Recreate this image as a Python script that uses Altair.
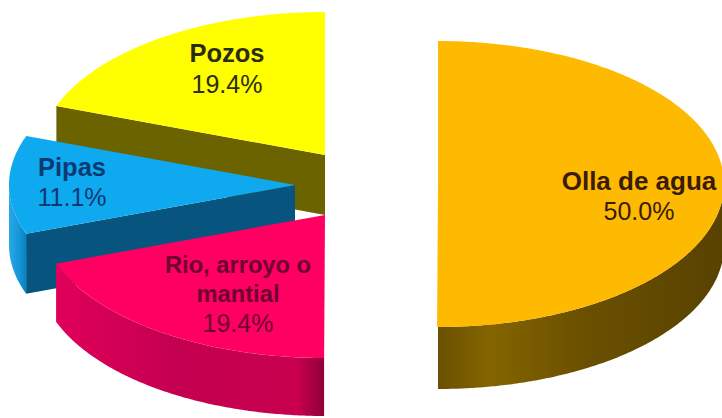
import math
import altair as alt
import pandas as pd

# Water sources and their shares, clockwise from twelve o'clock
categories = ["Olla de agua", "Rio, arroyo o mantial", "Pipas", "Pozos"]
shares = [50.0, 19.4, 11.1, 19.4]

# Layout of the exploded slices: apex of each wedge, ellipse radii, extrusion depth
apex = {"Olla de agua": (438, 184), "Rio, arroyo o mantial": (325, 215),
        "Pipas": (295, 185), "Pozos": (325, 155)}
depth = {"Olla de agua": 62, "Rio, arroyo o mantial": 58, "Pipas": 60, "Pozos": 60}
RX, RY = 286, 143

W, H = 722, 418
x_scale = alt.Scale(domain=[0, W], range=[0, W], nice=False, zero=False)
y_scale = alt.Scale(domain=[0, H], range=[0, H], nice=False, zero=False)


def hgrad(*stops):
    return alt.Gradient(
        gradient="linear", x1=0, x2=1, y1=0, y2=0,
        stops=[alt.GradientStop(offset=o, color=c) for o, c in stops],
    )


# Start and end angle of each slice, in degrees clockwise from the top
total = sum(shares)
angles, running = {}, 0.0
for name, value in zip(categories, shares):
    angles[name] = (running, running + value / total * 360)
    running += value / total * 360


def rim(name, a0, a1, dy=0):
    cx, cy = apex[name]
    steps = max(int(abs(a1 - a0)), 1) * 2
    out = []
    for k in range(steps + 1):
        t = math.radians(a0 + (a1 - a0) * k / steps)
        out.append((cx + RX * math.sin(t), cy - RY * math.cos(t) + dy))
    return out


def top(name):
    a0, a1 = angles[name]
    return [apex[name]] + rim(name, a0, a1) + [apex[name]]


def outer_wall(name, a0, a1):
    return rim(name, a0, a1) + rim(name, a1, a0, depth[name])


def cut_face(name, a):
    cx, cy = apex[name]
    edge = rim(name, a, a)[0]
    d = depth[name]
    return [edge, (cx, cy), (cx, cy + d), (edge[0], edge[1] + d)]


def shape(points, fill):
    frame = pd.DataFrame(points, columns=["x", "y"]).assign(i=range(len(points)))
    return alt.Chart(frame).mark_line(
        fill=fill, stroke="transparent", strokeWidth=0, interpolate="linear-closed"
    ).encode(
        x=alt.X("x:Q", scale=x_scale, axis=None),
        y=alt.Y("y:Q", scale=y_scale, axis=None),
        order="i:Q",
    )


olla, rio, pipas, pozos = categories
layers = [
    # Pozos sits at the back, then Pipas, then Rio in front
    shape(cut_face(pozos, angles[pozos][0]), "#6B6300"),
    shape(top(pozos), "#FFFF00"),
    shape(outer_wall(pipas, angles[pipas][0], 270),
          hgrad((0, "#2AA8E8"), (0.6, "#1496D8"), (1, "#0A80C0"))),
    shape(cut_face(pipas, angles[pipas][0]), "#07557F"),
    shape(top(pipas), "#0FA9F0"),
    shape(outer_wall(rio, angles[rio][0], angles[rio][1]),
          hgrad((0, "#E0005A"), (0.45, "#C40050"), (0.9, "#C8004E"), (1, "#8F0038"))),
    shape(top(rio), "#FF0062"),
    shape(outer_wall(olla, 90, 180),
          hgrad((0, "#6A5000"), (0.18, "#846500"), (0.5, "#6B5000"), (1, "#584200"))),
    shape(top(olla), "#FDBA00"),
]

# Slice captions: name lines in bold, the share on the last line
captions = {
    pozos: {"lines": ["Pozos"], "x": 227, "y": [54, 85], "size": 25.5, "color": "#2C2C10"},
    pipas: {"lines": ["Pipas"], "x": 72, "y": [168, 198], "size": 25.5, "color": "#0B3A72"},
    rio: {"lines": ["Rio, arroyo o", "mantial"], "x": 238, "y": [266, 295, 324], "size": 23.7,
          "color": "#6E0030"},
    olla: {"lines": ["Olla de agua"], "x": 639, "y": [182, 212], "size": 26, "color": "#3A1C08"},
}
for name, value in zip(categories, shares):
    cap = captions[name]
    rows = [(t, "bold", cap["size"]) for t in cap["lines"]]
    rows.append((f"{value:.1f}%", "normal", 25))
    for (text, weight, size), y in zip(rows, cap["y"]):
        frame = pd.DataFrame({"x": [cap["x"]], "y": [y], "label": [text]})
        layers.append(
            alt.Chart(frame).mark_text(
                font="Liberation Sans", fontSize=size, fontWeight=weight,
                color=cap["color"], align="center", baseline="middle",
            ).encode(
                x=alt.X("x:Q", scale=x_scale, axis=None),
                y=alt.Y("y:Q", scale=y_scale, axis=None),
                text="label:N",
            )
        )

chart = alt.layer(*layers).properties(
    width=W, height=H, padding=0,
    autosize=alt.AutoSizeParams(type="none"), background="white",
).configure_view(stroke=None)

chart.save("out.html", embed_options={"renderer": "svg", "actions": False})
